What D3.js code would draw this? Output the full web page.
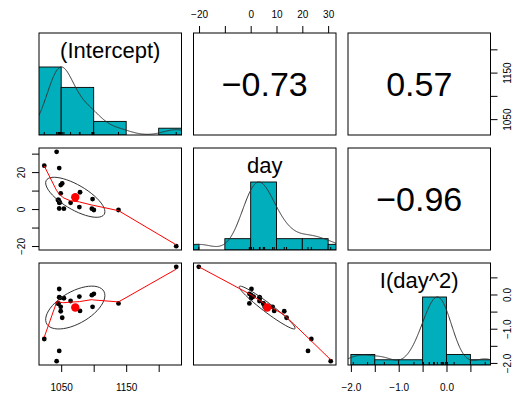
<!DOCTYPE html>
<html>
<head>
<meta charset="utf-8">
<script src="https://cdn.jsdelivr.net/npm/d3@7"></script>
<style>
  body { margin: 0; background: #fff; }
  text { font-family: "Liberation Sans", Arial, sans-serif; fill: #000; }
</style>
</head>
<body>
<svg id="chart" width="516" height="402"></svg>
<script>
// coefficient estimates per subject
const varNames = ['(Intercept)', 'day', 'I(day^2)'];
const intercept = [1227, 1043, 1047, 1024, 1051.6, 1049.3, 1079, 1049.3, 1045, 1047,
  1064.5, 1098.3, 1078, 1047, 1054.2, 1097.2, 1100.3, 1138.2, 1046, 1048];
const day = [-20.1, 31.0, 22.2, 23.5, 13.9, 13.0, 9.1, 8.5, 4.9, 3.4,
  3.4, 5.4, 1.1, 0.3, 0.2, 0.2, -0.5, -0.5, 5.0, 3.6];
const daySq = [0.81, -1.95, -1.65, -1.30, -0.68, -0.49, -0.48, -0.36, -0.26, -0.08,
  -0.19, -0.36, -0.06, 0.16, -0.11, -0.02, 0.02, -0.26, -0.27, -0.10];
// correlations printed in the upper panels: [row, col, label]
const corLabels = [[0, 1, '\u22120.73'], [0, 2, '0.57'], [1, 2, '\u22120.96']];
const topTicks = [-20, -10, 0, 10, 20, 30];
const topLabels = [-20, 0, 10, 20, 30];
const interceptTicks = [1050, 1100, 1150, 1200];
const interceptLabels = [1050, 1150];
const dayTicks = [-20, -10, 0, 10, 20, 30];
const dayLabels = [-20, 0, 20];
const sqTicks = [-2.0, -1.5, -1.0, -0.5, 0.0, 0.5];
const sqLabels = [-2.0, -1.0, 0.0];

const vars = [intercept, day, daySq];
const colX = [39, 193.5, 348];
const rowY = [33, 148, 263];
const panelW = 142.5;
const panelH = 102;
const histCol = '#00AFBB';
const minus = s => String(s).replace('-', '\u2212');

const svg = d3.select('#chart');

const domains = vars.map(v => {
  const e = d3.extent(v);
  const pad = 0.04 * (e[1] - e[0]);
  return [e[0] - pad, e[1] + pad];
});
const xs = domains.map((d, j) => d3.scaleLinear().domain(d).range([colX[j], colX[j] + panelW]));
const ys = domains.map((d, i) => d3.scaleLinear().domain(d).range([rowY[i] + panelH, rowY[i]]));

// clip paths for each panel
const defs = svg.append('defs');
for (let i = 0; i < 3; i++) {
  for (let j = 0; j < 3; j++) {
    defs.append('clipPath').attr('id', `clip${i}${j}`)
      .append('rect')
      .attr('x', colX[j]).attr('y', rowY[i])
      .attr('width', panelW).attr('height', panelH);
  }
}

// R's lowess (clowess port)
function lowest(x, y, n, xsv, nleft, nright, w, userw, rw) {
  const range = x[n] - x[1];
  const h = Math.max(xsv - x[nleft], x[nright] - xsv);
  const h9 = 0.999 * h, h1 = 0.001 * h;
  let a = 0, j = nleft;
  while (j <= n) {
    w[j] = 0;
    const r = Math.abs(x[j] - xsv);
    if (r <= h9) {
      w[j] = r <= h1 ? 1 : Math.pow(1 - Math.pow(r / h, 3), 3);
      if (userw) w[j] *= rw[j];
      a += w[j];
    } else if (x[j] > xsv) break;
    j++;
  }
  const nrt = j - 1;
  if (a <= 0) return null;
  for (j = nleft; j <= nrt; j++) w[j] /= a;
  if (h > 0) {
    a = 0;
    for (j = nleft; j <= nrt; j++) a += w[j] * x[j];
    let b = xsv - a, c = 0;
    for (j = nleft; j <= nrt; j++) c += w[j] * (x[j] - a) * (x[j] - a);
    if (Math.sqrt(c) > 0.001 * range) {
      b /= c;
      for (j = nleft; j <= nrt; j++) w[j] *= (b * (x[j] - a) + 1);
    }
  }
  let out = 0;
  for (j = nleft; j <= nrt; j++) out += w[j] * y[j];
  return out;
}

function lowess(px, py, f = 2 / 3, nsteps = 3) {
  const n = px.length;
  const order = d3.range(n).sort((a, b) => px[a] - px[b]);
  const x = [0, ...order.map(i => px[i])];
  const y = [0, ...order.map(i => py[i])];
  const delta = 0.01 * (x[n] - x[1]);
  const fit = new Array(n + 1).fill(0);
  const rw = new Array(n + 1).fill(1);
  const res = new Array(n + 1).fill(0);
  const w = new Array(n + 1).fill(0);
  const ns = Math.max(2, Math.min(n, Math.floor(f * n + 1e-7)));
  let iter = 1;
  while (iter <= nsteps + 1) {
    let nleft = 1, nright = ns, last = 0, i = 1;
    for (;;) {
      if (nright < n) {
        const d1 = x[i] - x[nleft], d2 = x[nright + 1] - x[i];
        if (d1 > d2) { nleft++; nright++; continue; }
      }
      const v = lowest(x, y, n, x[i], nleft, nright, w, iter > 1, rw);
      fit[i] = v === null ? y[i] : v;
      if (last < i - 1) {
        const denom = x[i] - x[last];
        for (let j = last + 1; j < i; j++) {
          const alpha = (x[j] - x[last]) / denom;
          fit[j] = alpha * fit[i] + (1 - alpha) * fit[last];
        }
      }
      last = i;
      const cut = x[last] + delta;
      for (i = last + 1; i <= n; i++) {
        if (x[i] > cut) break;
        if (x[i] === x[last]) { fit[i] = fit[last]; last = i; }
      }
      i = Math.max(last + 1, i - 1);
      if (last >= n) break;
    }
    let sc = 0;
    for (let k = 1; k <= n; k++) { res[k] = y[k] - fit[k]; sc += Math.abs(res[k]); }
    sc /= n;
    if (iter > nsteps) break;
    const ar = res.slice(1).map(Math.abs).sort((a, b) => a - b);
    const m1 = Math.floor(n / 2);
    const cmad = n % 2 === 0 ? 3 * (ar[m1] + ar[n - m1 - 1]) : 6 * ar[m1];
    if (cmad < 1e-7 * sc) break;
    const c9 = 0.999 * cmad, c1 = 0.001 * cmad;
    for (let k = 1; k <= n; k++) {
      const r = Math.abs(res[k]);
      rw[k] = r <= c1 ? 1 : (r <= c9 ? Math.pow(1 - Math.pow(r / cmad, 2), 2) : 0);
    }
    iter++;
  }
  return x.slice(1).map((xx, k) => [xx, fit[k + 1]]);
}

// gaussian density, bw = 1.2 * bw.nrd, scaled to max 1
function density(v) {
  const s = [...v].sort((a, b) => a - b);
  const iqr = (d3.quantile(s, 0.75) - d3.quantile(s, 0.25)) / 1.34;
  const bw = 1.2 * 1.06 * Math.min(d3.deviation(v), iqr) * Math.pow(v.length, -0.2);
  const lo = s[0] - 3 * bw, hi = s[s.length - 1] + 3 * bw;
  const pts = d3.range(512).map(k => {
    const x = lo + (hi - lo) * k / 511;
    const y = d3.sum(v, d => Math.exp(-0.5 * ((x - d) / bw) ** 2));
    return [x, y];
  });
  const m = d3.max(pts, p => p[1]);
  return pts.map(p => [p[0], p[1] / m]);
}

function histogram(v) {
  const e = d3.extent(v);
  const step = d3.tickStep(e[0], e[1], 6);
  const lo = Math.floor(e[0] / step) * step;
  const hi = Math.ceil(e[1] / step) * step;
  const breaks = d3.range(lo, hi + step / 2, step);
  const counts = breaks.slice(1).map((b, k) =>
    v.filter(d => (k === 0 ? d >= breaks[0] : d > breaks[k]) && d <= b).length);
  return { breaks, counts };
}

for (let i = 0; i < 3; i++) {
  for (let j = 0; j < 3; j++) {
    const g = svg.append('g');
    const inner = g.append('g').attr('clip-path', `url(#clip${i}${j})`);
    const cx = colX[j] + panelW / 2, cy = rowY[i] + panelH / 2;

    if (i === j) {
      const v = vars[i];
      const x = xs[j];
      const hy = d3.scaleLinear().domain([0, 1.5]).range([rowY[i] + panelH, rowY[i]]);
      const h = histogram(v);
      const maxC = d3.max(h.counts);
      inner.selectAll('rect.bar')
        .data(h.counts)
        .enter()
        .append('rect')
        .attr('class', 'bar')
        .attr('x', (d, k) => x(h.breaks[k]))
        .attr('width', (d, k) => x(h.breaks[k + 1]) - x(h.breaks[k]))
        .attr('y', d => hy(d / maxC))
        .attr('height', d => hy(0) - hy(d / maxC))
        .attr('fill', histCol)
        .attr('stroke', '#000')
        .attr('stroke-width', 0.9);
      inner.append('path')
        .datum(density(v))
        .attr('d', d3.line().x(d => x(d[0])).y(d => hy(d[1])))
        .attr('fill', 'none')
        .attr('stroke', '#333')
        .attr('stroke-width', 1);
      inner.selectAll('line.rug')
        .data(v)
        .enter()
        .append('line')
        .attr('class', 'rug')
        .attr('x1', d => x(d)).attr('x2', d => x(d))
        .attr('y1', hy(0)).attr('y2', hy(0) - 3)
        .attr('stroke', '#000');
      g.append('text')
        .attr('x', cx).attr('y', rowY[i] + 17.5)
        .attr('text-anchor', 'middle')
        .attr('dominant-baseline', 'central')
        .style('font-size', '22px')
        .text(varNames[i]);
    } else if (i > j) {
      const vx = vars[j], vy = vars[i];
      const x = xs[j], y = ys[i];
      inner.selectAll('circle.pt')
        .data(vx)
        .enter()
        .append('circle')
        .attr('class', 'pt')
        .attr('cx', d => x(d))
        .attr('cy', (d, k) => y(vy[k]))
        .attr('r', 2.4)
        .attr('fill', '#000');
      // 1-sd correlation ellipse
      const mx = d3.mean(vx), my = d3.mean(vy);
      const sx = d3.deviation(vx), sy = d3.deviation(vy);
      const r = d3.sum(vx, (d, k) => (d - mx) * (vy[k] - my)) / ((vx.length - 1) * sx * sy);
      const th = Math.sign(r) / Math.SQRT2;
      const ell = d3.range(52).map(k => {
        const a = k * 2 * Math.PI / 51;
        const ex = Math.cos(a) * Math.sqrt(1 + r) * th - Math.sin(a) * Math.sqrt(1 - r) * th;
        const ey = Math.cos(a) * Math.sqrt(1 + r) * th + Math.sin(a) * Math.sqrt(1 - r) * th;
        return [mx + ex * sx, my + ey * sy];
      });
      inner.append('circle')
        .attr('cx', x(mx)).attr('cy', y(my))
        .attr('r', 4.2)
        .attr('fill', '#FF0000');
      inner.append('path')
        .datum(ell)
        .attr('d', d3.line().x(d => x(d[0])).y(d => y(d[1])))
        .attr('fill', 'none')
        .attr('stroke', '#333')
        .attr('stroke-width', 1);
      inner.append('path')
        .datum(lowess(vx, vy))
        .attr('d', d3.line().x(d => x(d[0])).y(d => y(d[1])))
        .attr('fill', 'none')
        .attr('stroke', '#FF0000')
        .attr('stroke-width', 1);
    } else {
      const lab = corLabels.find(c => c[0] === i && c[1] === j);
      g.append('text')
        .attr('x', cx).attr('y', cy)
        .attr('text-anchor', 'middle')
        .attr('dominant-baseline', 'central')
        .style('font-size', '34px')
        .text(lab ? lab[2] : '');
    }

    g.append('rect')
      .attr('x', colX[j]).attr('y', rowY[i])
      .attr('width', panelW).attr('height', panelH)
      .attr('fill', 'none')
      .attr('stroke', '#000')
      .attr('stroke-width', 1);
  }
}

// axes around the matrix
const axisStyle = (sel) => {
  sel.select('.domain').remove();
  sel.selectAll('line').attr('stroke', '#000');
  sel.selectAll('text').style('font-size', '10px').attr('fill', '#000');
};

// top of column 2: day
svg.append('g')
  .attr('transform', `translate(0,${rowY[0]})`)
  .call(d3.axisTop(xs[1]).tickValues(topTicks).tickSize(7).tickPadding(8)
    .tickFormat(d => topLabels.includes(d) ? minus(d) : ''))
  .call(axisStyle);

// bottom of column 1: intercept
svg.append('g')
  .attr('transform', `translate(0,${rowY[2] + panelH})`)
  .call(d3.axisBottom(xs[0]).tickValues(interceptTicks).tickSize(7).tickPadding(12)
    .tickFormat(d => interceptLabels.includes(d) ? d : ''))
  .call(axisStyle);

// bottom of column 3: I(day^2)
svg.append('g')
  .attr('transform', `translate(0,${rowY[2] + panelH})`)
  .call(d3.axisBottom(xs[2]).tickValues(sqTicks).tickSize(7).tickPadding(12)
    .tickFormat(d => sqLabels.includes(d) ? minus(d3.format('.1f')(d)) : ''))
  .call(axisStyle);

// left of row 2: day (labels rotated)
const leftAx = svg.append('g')
  .attr('transform', `translate(${colX[0]},0)`)
  .call(d3.axisLeft(ys[1]).tickValues(dayTicks).tickSize(7)
    .tickFormat(d => dayLabels.includes(d) ? minus(d) : ''))
  .call(axisStyle);
leftAx.selectAll('.tick text')
  .attr('text-anchor', 'middle')
  .attr('dy', null)
  .attr('dominant-baseline', 'central')
  .attr('x', 0)
  .attr('transform', 'translate(-18,0) rotate(-90)');

// right of row 1: intercept, right of row 3: I(day^2)
const rightX = colX[2] + panelW;
const rightAxes = [
  [0, interceptTicks, d => interceptLabels.includes(d) ? d : ''],
  [2, sqTicks, d => sqLabels.includes(d) ? minus(d3.format('.1f')(d)) : '']
];
for (const [row, tv, fmt] of rightAxes) {
  const ax = svg.append('g')
    .attr('transform', `translate(${rightX},0)`)
    .call(d3.axisRight(ys[row]).tickValues(tv).tickSize(7).tickFormat(fmt))
    .call(axisStyle);
  ax.selectAll('.tick text')
    .attr('text-anchor', 'middle')
    .attr('dy', null)
    .attr('dominant-baseline', 'central')
    .attr('x', 0)
    .attr('transform', 'translate(17,0) rotate(-90)');
}
</script>
</body>
</html>
